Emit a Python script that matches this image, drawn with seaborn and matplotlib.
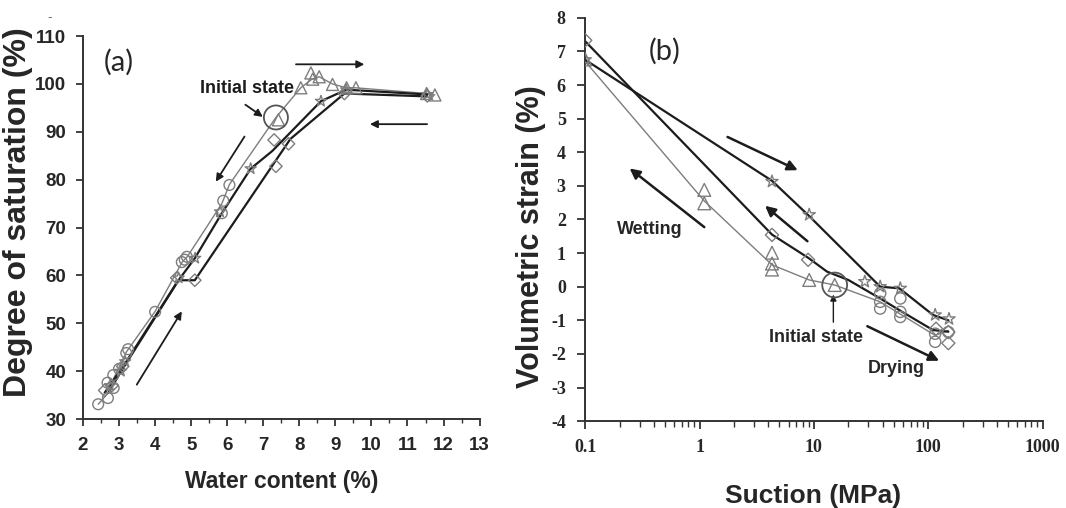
import matplotlib
matplotlib.use('Agg')
import matplotlib.pyplot as plt
import seaborn as sns
import pandas as pd
from matplotlib.ticker import MultipleLocator, LogLocator, FixedLocator, NullFormatter

# ---------------- panel (a): degree of saturation vs water content ----------------
a_circle_w = [2.42, 2.69, 2.68, 2.85, 2.84, 3.0, 3.2, 3.25, 4.0, 4.74, 4.82, 4.88, 5.85, 5.89, 6.06]
a_circle_s = [33.1, 34.4, 37.6, 36.5, 39.2, 40.5, 43.8, 44.6, 52.4, 62.8, 63.3, 63.9, 73.0, 75.6, 78.9]
a_tri_w = [7.42, 8.04, 8.32, 8.37, 8.55, 8.92, 9.31, 9.57, 11.53, 11.76]
a_tri_s = [92.5, 99.2, 102.3, 101.0, 101.5, 99.9, 99.2, 99.2, 98.0, 97.7]
a_star_w = [2.75, 3.05, 3.17, 4.65, 5.11, 5.80, 6.65, 8.60, 9.30, 11.55]
a_star_s = [37.0, 40.0, 42.0, 59.5, 63.6, 73.3, 82.3, 96.4, 98.8, 97.8]
a_dia_w = [2.6, 2.8, 3.1, 4.6, 5.1, 7.3, 7.35, 7.7, 9.25, 11.55]
a_dia_s = [36.0, 37.0, 41.0, 59.5, 59.0, 88.3, 82.8, 87.5, 98.0, 97.5]

a_gray_w = [2.42, 2.7, 2.85, 3.2, 4.0, 4.75, 4.9, 5.85, 6.06, 7.35, 8.04, 8.35, 8.55, 8.92, 9.3, 9.55, 11.55, 11.76]
a_gray_s = [33.1, 35.5, 38.5, 44.0, 52.5, 62.8, 64.0, 75.0, 79.0, 93.0, 99.2, 101.0, 101.5, 100.0, 99.2, 99.2, 98.0, 97.7]
a_line1_w = [2.6, 3.2, 4.6, 5.1, 5.85, 6.65, 7.25, 8.6, 9.3, 11.55]
a_line1_s = [35.5, 42.0, 58.5, 63.6, 73.0, 82.3, 86.0, 96.4, 98.8, 97.8]
a_line2_w = [2.7, 3.1, 4.65, 5.1, 7.75, 9.25, 11.55]
a_line2_s = [35.5, 40.5, 59.0, 59.0, 88.5, 98.0, 97.4]
a_init = (7.35, 93.0)

# ---------------- panel (b): volumetric strain vs suction ----------------
b_dia_x = [0.1, 4.3, 8.9, 117, 150, 150]
b_dia_y = [7.33, 1.54, 0.8, -1.25, -1.68, -1.35]
b_star_x = [0.1, 4.3, 9.1, 27.9, 38, 57, 115, 152]
b_star_y = [6.75, 3.13, 2.14, 0.15, 0.0, -0.05, -0.84, -0.96]
b_tri_x = [0.1, 1.1, 1.1, 4.3, 4.3, 4.3, 9.1, 15.2]
b_tri_y = [6.76, 2.88, 2.48, 1.01, 0.69, 0.51, 0.2, 0.05]
b_circle_x = [38, 38, 38, 57, 57, 57, 115, 115, 150]
b_circle_y = [-0.2, -0.45, -0.65, -0.35, -0.75, -0.9, -1.4, -1.64, -1.35]

b_gray_x = [0.1, 1.1, 4.3, 9.1, 15.2, 38, 56, 115, 150]
b_gray_y = [6.7, 2.55, 0.65, 0.2, 0.05, -0.45, -0.8, -1.45, -1.3]
b_line1_x = [0.1, 4.3, 9.1, 38, 56, 110, 150]
b_line1_y = [6.75, 3.15, 2.1, 0.0, -0.05, -0.84, -1.0]
b_line2_x = [0.1, 4.3, 9.0, 13, 20, 38, 56, 110, 150]
b_line2_y = [7.3, 1.55, 0.85, 0.45, 0.2, -0.35, -0.7, -1.29, -1.34]
b_init = (15.2, 0.05)

GRAY = '#7d7d7d'
DARK = '#1c1c1c'

sns.set_style('ticks')
plt.rcParams['axes.unicode_minus'] = False
NARROW = ['Liberation Sans Narrow', 'Liberation Sans', 'DejaVu Sans']
SANS = ['Liberation Sans', 'DejaVu Sans']
SERIF = ['Liberation Serif', 'DejaVu Serif']

fig = plt.figure(figsize=(10.66, 5.08), dpi=100)
ax_a = fig.add_axes([0.0779, 0.175, 0.372, 0.754])
ax_b = fig.add_axes([0.549, 0.171, 0.429, 0.794])


def draw_line(ax, x, y, color, lw):
    df = pd.DataFrame({'x': x, 'y': y})
    sns.lineplot(data=df, x='x', y='y', sort=False, estimator=None,
                 color=color, lw=lw, ax=ax)


def draw_marks(ax, x, y, marker, size):
    df = pd.DataFrame({'x': x, 'y': y})
    sns.scatterplot(data=df, x='x', y='y', marker=marker, s=size,
                    facecolor='none', edgecolor=GRAY, linewidth=1.0, ax=ax, zorder=3)


# ---- panel (a)
draw_line(ax_a, a_gray_w, a_gray_s, GRAY, 1.0)
draw_line(ax_a, a_line1_w, a_line1_s, DARK, 1.6)
draw_line(ax_a, a_line2_w, a_line2_s, DARK, 1.6)
draw_marks(ax_a, a_circle_w, a_circle_s, 'o', 60)
draw_marks(ax_a, a_tri_w, a_tri_s, '^', 75)
draw_marks(ax_a, a_star_w, a_star_s, '*', 70)
draw_marks(ax_a, a_dia_w, a_dia_s, 'D', 40)
ax_a.scatter([a_init[0]], [a_init[1]], s=300, facecolor='none', edgecolor='#555555', lw=1.3, zorder=4)

ax_a.set_xlim(2, 13)
ax_a.set_ylim(30, 110)
ax_a.xaxis.set_major_locator(MultipleLocator(1))
ax_a.xaxis.set_minor_locator(MultipleLocator(0.5))
ax_a.yaxis.set_major_locator(MultipleLocator(10))
ax_a.tick_params(axis='both', which='major', direction='out', length=5, width=1.3, color='#333333')
ax_a.tick_params(axis='x', which='minor', direction='out', length=3, width=1.0, color='#333333')
ax_a.tick_params(axis='y', pad=7)
ax_a.tick_params(axis='x', pad=8)
for lab in ax_a.get_xticklabels() + ax_a.get_yticklabels():
    lab.set_family(NARROW)
    lab.set_fontweight('bold')
    lab.set_fontsize(13.5)
ax_a.set_xlabel('Water content (%)', family=NARROW, fontweight='bold', fontsize=16.5)
ax_a.set_ylabel('Degree of saturation (%)', family=SANS, fontweight='bold', fontsize=23)
ax_a.xaxis.set_label_coords(0.5, -0.133)
ax_a.yaxis.set_label_coords(-0.125, 0.54)

arrow_a = dict(arrowstyle='-|>', color=DARK, lw=1.3, mutation_scale=11)
ax_a.annotate('', xy=(9.88, 104.1), xytext=(7.83, 104.1), arrowprops=arrow_a)
ax_a.annotate('', xy=(9.88, 91.6), xytext=(11.62, 91.6), arrowprops=arrow_a)
ax_a.annotate('', xy=(5.64, 79.1), xytext=(6.52, 89.5), arrowprops=arrow_a)
ax_a.annotate('', xy=(4.78, 53.0), xytext=(3.45, 36.7), arrowprops=arrow_a)
ax_a.annotate('', xy=(7.05, 92.8), xytext=(6.44, 96.0), arrowprops=arrow_a)
ax_a.text(6.55, 99.1, 'Initial state', family=NARROW, fontweight='bold', fontsize=13,
          ha='center', va='center', color=DARK)
ax_a.text(2.98, 104.5, '(a)', family=['Lato', 'DejaVu Sans'], fontsize=21, ha='center', va='center')

# ---- panel (b)
draw_line(ax_b, b_gray_x, b_gray_y, GRAY, 1.0)
draw_line(ax_b, b_line1_x, b_line1_y, DARK, 1.6)
draw_line(ax_b, b_line2_x, b_line2_y, DARK, 1.6)
draw_marks(ax_b, b_circle_x, b_circle_y, 'o', 65)
draw_marks(ax_b, b_tri_x, b_tri_y, '^', 85)
draw_marks(ax_b, b_star_x, b_star_y, '*', 85)
draw_marks(ax_b, b_dia_x, b_dia_y, 'D', 45)
ax_b.scatter([b_init[0]], [b_init[1]], s=320, facecolor='none', edgecolor='#555555', lw=1.3, zorder=4)

ax_b.set_xscale('log')
ax_b.set_xlim(0.1, 1000)
ax_b.set_ylim(-4, 8)
ax_b.xaxis.set_major_locator(FixedLocator([0.1, 1, 10, 100, 1000]))
ax_b.xaxis.set_minor_locator(LogLocator(base=10, subs=range(2, 10)))
ax_b.xaxis.set_minor_formatter(NullFormatter())
ax_b.set_xticklabels(['0.1', '1', '10', '100', '1000'])
ax_b.yaxis.set_major_locator(MultipleLocator(1))
ax_b.tick_params(axis='both', which='major', direction='out', length=6, width=1.3, color='#333333')
ax_b.tick_params(axis='x', which='minor', direction='out', length=4, width=1.0, color='#333333')
ax_b.tick_params(axis='y', pad=8)
ax_b.tick_params(axis='x', pad=7)
for lab in ax_b.get_xticklabels() + ax_b.get_yticklabels():
    lab.set_family(SERIF)
    lab.set_fontweight('bold')
    lab.set_fontsize(13)
ax_b.set_xlabel('Suction (MPa)', family=SANS, fontweight='bold', fontsize=19)
ax_b.set_ylabel('Volumetric strain (%)', family=SANS, fontweight='bold', fontsize=22)
ax_b.xaxis.set_label_coords(0.498, -0.156)
ax_b.yaxis.set_label_coords(-0.085, 0.457)

arrow_b = dict(arrowstyle='-|>', color=DARK, lw=1.8, mutation_scale=15)
ax_b.annotate('', xy=(7.6, 3.43), xytext=(1.67, 4.49), arrowprops=arrow_b)
ax_b.annotate('', xy=(0.234, 3.57), xytext=(1.15, 1.72), arrowprops=arrow_b)
ax_b.annotate('', xy=(3.58, 2.46), xytext=(9.16, 1.30), arrowprops=arrow_b)
ax_b.annotate('', xy=(131, -2.24), xytext=(27.9, -1.14), arrowprops=arrow_b)
ax_b.annotate('', xy=(14.8, -0.15), xytext=(14.8, -1.14),
              arrowprops=dict(arrowstyle='-|>', color=DARK, lw=1.0, mutation_scale=9))
ax_b.text(0.37, 1.69, 'Wetting', family=SANS, fontweight='bold', fontsize=13, ha='center', va='center')
ax_b.text(10.4, -1.52, 'Initial state', family=SANS, fontweight='bold', fontsize=13, ha='center', va='center')
ax_b.text(52.5, -2.42, 'Drying', family=SANS, fontweight='bold', fontsize=13, ha='center', va='center')
ax_b.text(0.5, 7.0, '(b)', family=['Lato', 'DejaVu Sans'], fontsize=21, ha='center', va='center')

for ax in (ax_a, ax_b):
    ax.spines['right'].set_visible(False)
    ax.spines['top'].set_visible(False)
    ax.spines['left'].set_linewidth(1.4)
    ax.spines['bottom'].set_linewidth(1.4)
    ax.spines['left'].set_color('#333333')
    ax.spines['bottom'].set_color('#333333')

# small stray mark at top-left of the scanned figure
fig.text(0.047, 0.965, '-', color='#666666', fontsize=9, ha='center', va='center')

fig.savefig('out.png', dpi=100)
